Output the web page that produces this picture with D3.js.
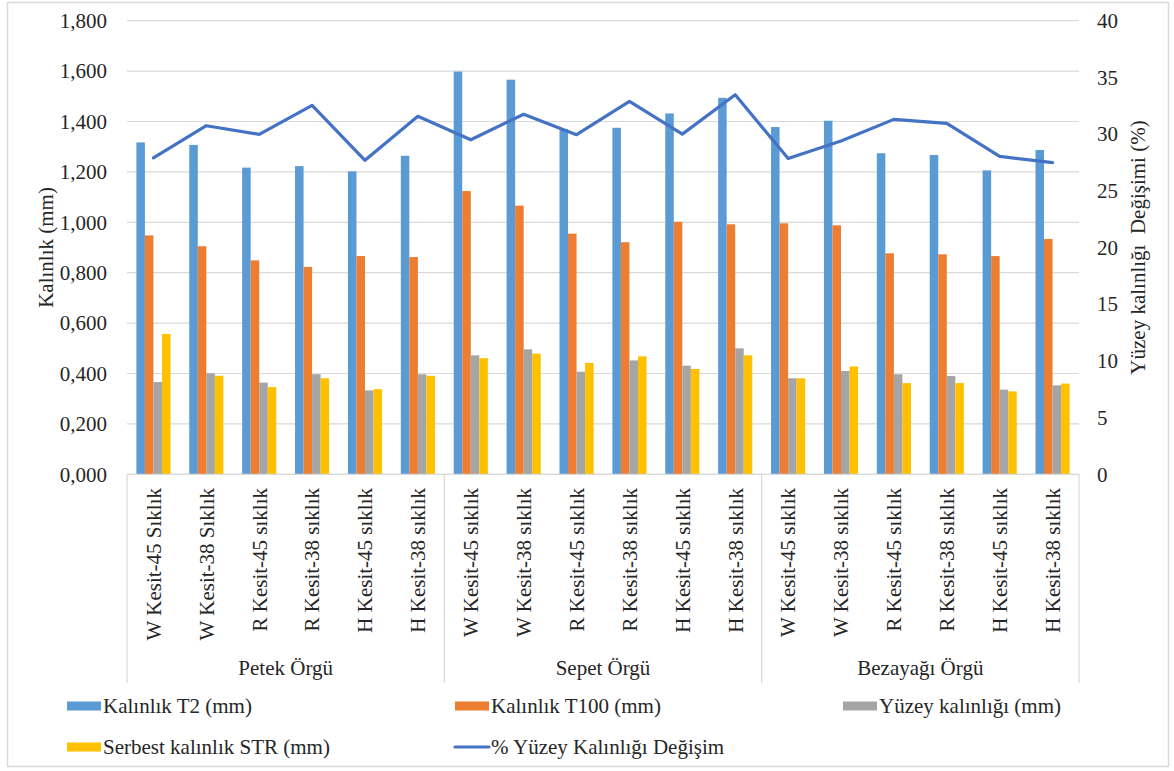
<!DOCTYPE html>
<html>
<head>
<meta charset="utf-8">
<script src="https://cdn.jsdelivr.net/npm/d3@7"></script>
<style>
  html, body { margin: 0; padding: 0; background: #fff; }
  svg { display: block; }
</style>
</head>
<body>
<svg id="chart" width="1174" height="771"></svg>
<script>
// Fabric groups and sample labels
const groups = ["Petek Örgü", "Sepet Örgü", "Bezayağı Örgü"];
const samples = [
  "W Kesit-45 Sıklık", "W Kesit-38 Sıklık", "R Kesit-45 sıklık", "R Kesit-38 sıklık", "H Kesit-45 sıklık", "H Kesit-38 sıklık",
  "W Kesit-45 sıklık", "W Kesit-38 sıklık", "R Kesit-45 sıklık", "R Kesit-38 sıklık", "H Kesit-45 sıklık", "H Kesit-38 sıklık",
  "W Kesit-45 sıklık", "W Kesit-38 sıklık", "R Kesit-45 sıklık", "R Kesit-38 sıklık", "H Kesit-45 sıklık", "H Kesit-38 sıklık"
];

// Thickness measurements (mm)
const kalinlikT2   = [1.317, 1.307, 1.217, 1.223, 1.202, 1.264, 1.598, 1.566, 1.370, 1.375, 1.432, 1.494, 1.378, 1.403, 1.274, 1.267, 1.206, 1.287];
const kalinlikT100 = [0.948, 0.905, 0.849, 0.823, 0.866, 0.862, 1.124, 1.066, 0.955, 0.921, 1.002, 0.992, 0.996, 0.988, 0.877, 0.873, 0.866, 0.934];
const yuzeyKalinligi = [0.366, 0.401, 0.364, 0.397, 0.333, 0.397, 0.472, 0.496, 0.407, 0.452, 0.431, 0.500, 0.381, 0.410, 0.397, 0.390, 0.336, 0.353];
const serbestSTR   = [0.557, 0.391, 0.346, 0.381, 0.338, 0.391, 0.461, 0.479, 0.442, 0.468, 0.418, 0.472, 0.381, 0.428, 0.362, 0.362, 0.329, 0.360];
// Surface thickness change (%)
const yuzeyDegisim = [27.90, 30.74, 29.98, 32.54, 27.69, 31.57, 29.50, 31.75, 29.95, 32.89, 30.00, 33.47, 27.85, 29.39, 31.30, 30.95, 28.04, 27.48];

// Axis ticks
const leftTicks = [0, 0.2, 0.4, 0.6, 0.8, 1.0, 1.2, 1.4, 1.6, 1.8];
const rightTicks = [0, 5, 10, 15, 20, 25, 30, 35, 40];

const barSeries = [
  { name: "Kalınlık T2 (mm)", values: kalinlikT2, color: "#5B9BD5" },
  { name: "Kalınlık T100 (mm)", values: kalinlikT100, color: "#ED7D31" },
  { name: "Yüzey kalınlığı (mm)", values: yuzeyKalinligi, color: "#A5A5A5" },
  { name: "Serbest kalınlık STR (mm)", values: serbestSTR, color: "#FFC000" }
];
const lineSeries = { name: "% Yüzey Kalınlığı Değişim", values: yuzeyDegisim, color: "#4472C4" };

const FONT = "Liberation Serif";
const FS = 21;
const TXT = "#262626";

const svg = d3.select("#chart");
const plot = { left: 127, right: 1079, top: 20.7, bottom: 474.3 };

// chart border
svg.append("rect")
  .attr("x", 7.5).attr("y", 2.5).attr("width", 1161).attr("height", 764)
  .attr("fill", "#fff").attr("stroke", "#D9D9D9").attr("stroke-width", 1.5);

const idx = d3.range(samples.length);
const x = d3.scaleBand().domain(idx).range([plot.left, plot.right]).paddingInner(0).paddingOuter(0);
const xInner = d3.scaleBand().domain(d3.range(barSeries.length)).range([0, x.bandwidth()])
  .paddingInner(0).paddingOuter(1.1);
const yL = d3.scaleLinear().domain([0, 1.8]).range([plot.bottom, plot.top]);
const yR = d3.scaleLinear().domain([0, 40]).range([plot.bottom, plot.top]);

const fmtL = v => d3.format(".3f")(v).replace(".", ",");

// gridlines
svg.append("g").selectAll("line").data(leftTicks).join("line")
  .attr("x1", plot.left).attr("x2", plot.right)
  .attr("y1", d => yL(d)).attr("y2", d => yL(d))
  .attr("stroke", "#D9D9D9").attr("stroke-width", 1.2);

// left axis
const axL = svg.append("g").attr("transform", `translate(${plot.left - 20},0)`)
  .call(d3.axisLeft(yL).tickValues(leftTicks).tickFormat(fmtL).tickSize(0).tickPadding(0));
axL.select(".domain").remove();

// right axis
const axR = svg.append("g").attr("transform", `translate(${plot.right + 18},0)`)
  .call(d3.axisRight(yR).tickValues(rightTicks).tickFormat(d3.format("d")).tickSize(0).tickPadding(0));
axR.select(".domain").remove();

// bars
const barG = svg.append("g");
barSeries.forEach((s, si) => {
  barG.append("g").selectAll("rect").data(idx).join("rect")
    .attr("x", i => x(i) + xInner(si))
    .attr("width", xInner.bandwidth())
    .attr("y", i => yL(s.values[i]))
    .attr("height", i => yL(0) - yL(s.values[i]))
    .attr("fill", s.color);
});

// line series on secondary axis
const line = d3.line().x(i => x(i) + x.bandwidth() / 2).y(i => yR(lineSeries.values[i]));
svg.append("path").datum(idx).attr("d", line)
  .attr("fill", "none").attr("stroke", lineSeries.color).attr("stroke-width", 3.2)
  .attr("stroke-linejoin", "round").attr("stroke-linecap", "round");

// category axis frame
const axisColor = "#D9D9D9";
svg.append("line").attr("x1", plot.left).attr("x2", plot.right)
  .attr("y1", plot.bottom).attr("y2", plot.bottom).attr("stroke", axisColor).attr("stroke-width", 1.2);
const groupBounds = [0, 6, 12, 18].map(k => k < 18 ? x(k) : plot.right);
svg.append("g").selectAll("line").data(groupBounds).join("line")
  .attr("x1", d => d).attr("x2", d => d)
  .attr("y1", plot.bottom).attr("y2", 683)
  .attr("stroke", axisColor).attr("stroke-width", 1.2);

// sample labels
svg.append("g").selectAll("text").data(idx).join("text")
  .attr("transform", i => `translate(${x(i) + x.bandwidth() / 2},488) rotate(-90)`)
  .attr("text-anchor", "end").attr("dy", "0.35em")
  .text(i => samples[i]);

// group labels
svg.append("g").selectAll("text").data(groups).join("text")
  .attr("x", (g, k) => (groupBounds[k] + groupBounds[k + 1]) / 2)
  .attr("y", 675)
  .attr("text-anchor", "middle")
  .text(g => g);

// axis titles
svg.append("text")
  .attr("transform", `translate(46,${(plot.top + plot.bottom) / 2}) rotate(-90)`)
  .attr("text-anchor", "middle").attr("dy", "0.35em")
  .text("Kalınlık (mm)");
svg.append("text")
  .attr("transform", `translate(1138,${(plot.top + plot.bottom) / 2}) rotate(-90)`)
  .attr("text-anchor", "middle").attr("dy", "0.35em")
  .attr("xml:space", "preserve")
  .style("white-space", "pre")
  .text("Yüzey kalınlığı  Değişimi (%)");

// legend
const legendItems = [
  { s: barSeries[0], x: 67, y: 706, type: "bar" },
  { s: barSeries[1], x: 455, y: 706, type: "bar" },
  { s: barSeries[2], x: 843, y: 706, type: "bar" },
  { s: barSeries[3], x: 67, y: 747, type: "bar" },
  { s: lineSeries, x: 455, y: 747, type: "line" }
];
const lg = svg.append("g");
legendItems.forEach(it => {
  if (it.type === "bar") {
    lg.append("rect").attr("x", it.x).attr("y", it.y - 4.5).attr("width", 34).attr("height", 9).attr("fill", it.s.color);
  } else {
    lg.append("line").attr("x1", it.x).attr("x2", it.x + 34).attr("y1", it.y).attr("y2", it.y)
      .attr("stroke", it.s.color).attr("stroke-width", 3.2).attr("stroke-linecap", "round");
  }
  lg.append("text").attr("x", it.x + 36).attr("y", it.y).attr("dy", "0.35em")
    .text(it.s.name);
});

// shared text styling
svg.selectAll("text")
  .attr("font-family", FONT)
  .attr("font-size", FS)
  .attr("fill", TXT);
</script>
</body>
</html>
